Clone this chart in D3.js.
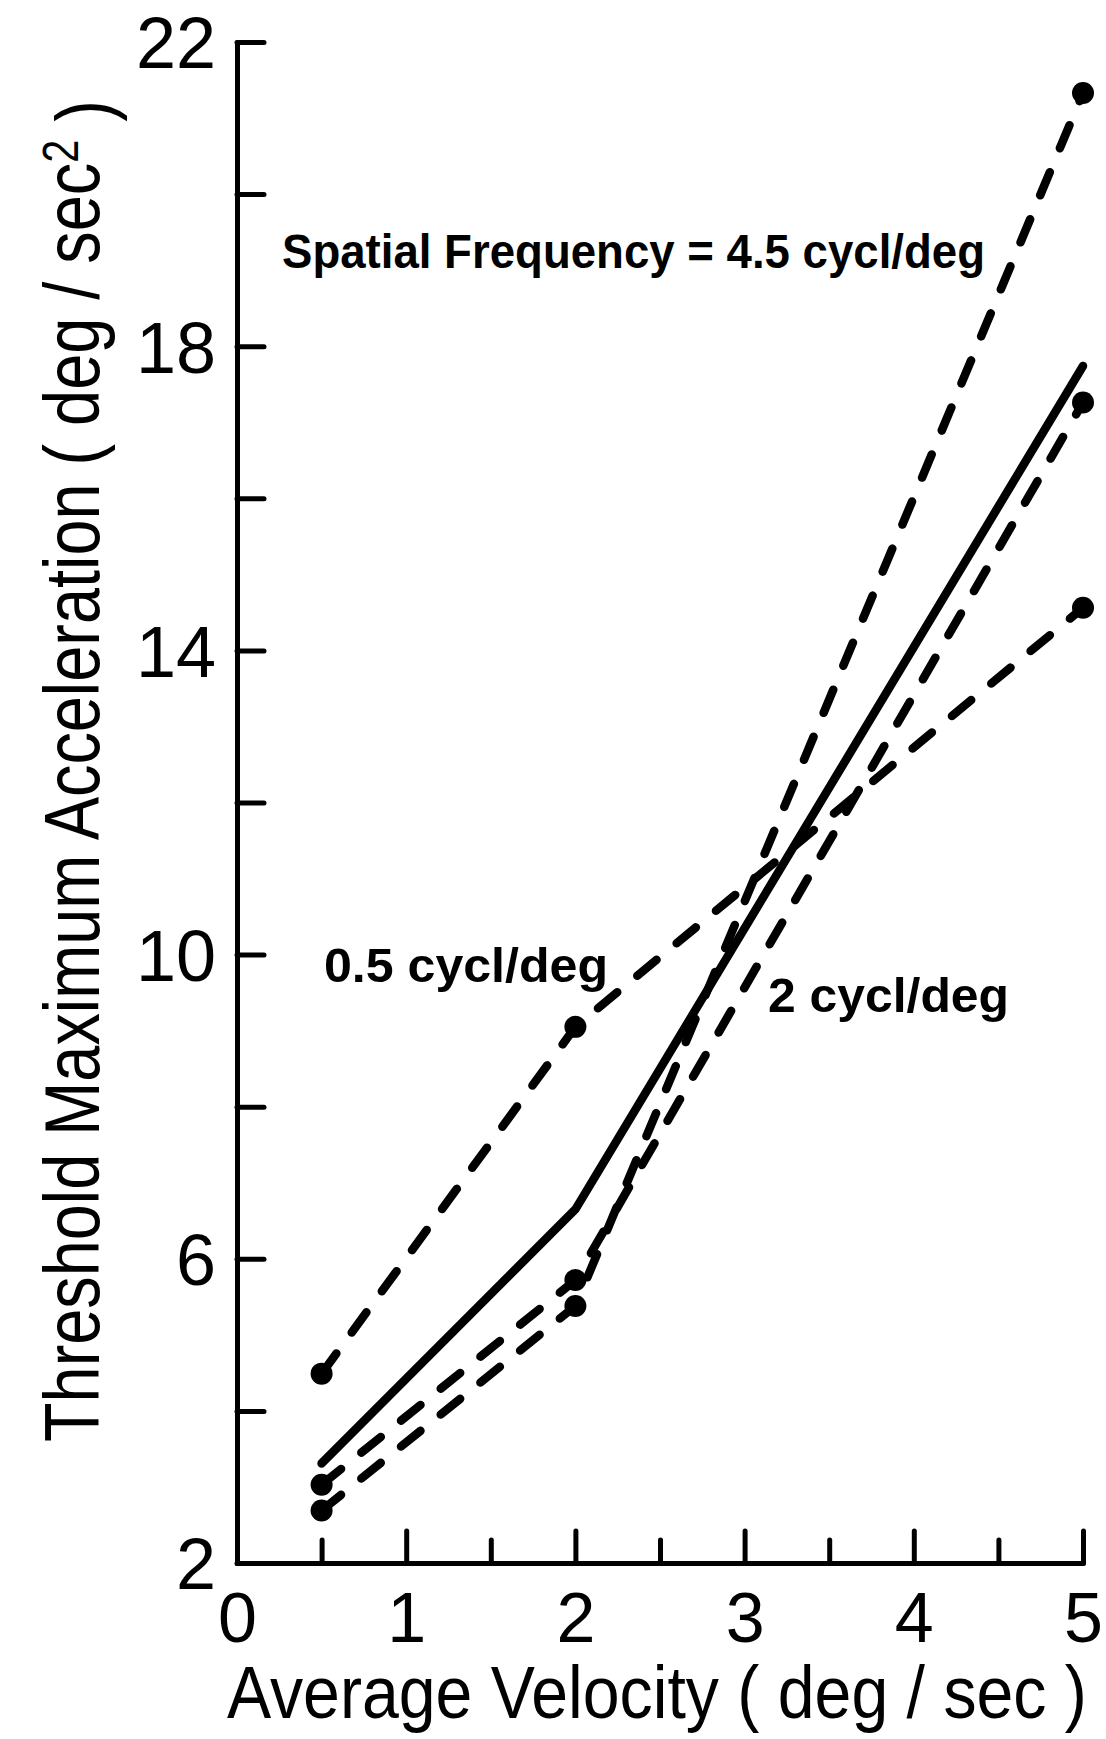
<!DOCTYPE html>
<html>
<head>
<meta charset="utf-8">
<script src="https://cdn.jsdelivr.net/npm/d3@7"></script>
<style>
  body { margin: 0; background: #fff; }
  svg { display: block; }
  .axis path, .axis line { stroke: #000; stroke-width: 5; stroke-linecap: round; }
  .axis text { font-family: "Liberation Sans", sans-serif; fill: #000; }
</style>
</head>
<body>
<svg id="chart"></svg>
<script>
// average velocity (deg/sec)
var velocity = [0.5, 2, 5];
// threshold max acceleration (deg/sec^2), one array per curve
var sf05 = [4.49, 9.05, 14.56];      // 0.5 cycl/deg
var sf2 = [3.03, 5.72, 17.26];       // 2 cycl/deg
var sf45 = [2.69, 5.38, 21.33];      // 4.5 cycl/deg
var solidCurve = [3.31, 6.65, 17.74]; // unmarked solid line

var yLabelTicks = [2, 6, 10, 14, 18, 22];
var yMinorTicks = [4, 8, 12, 16, 20];
var xLabelTicks = [0, 1, 2, 3, 4, 5];
var xMinorTicks = [0.5, 1.5, 2.5, 3.5, 4.5];

var W = 1106, H = 1739;
var svg = d3.select("#chart").attr("width", W).attr("height", H);

var x = d3.scaleLinear().domain([0, 5]).range([237, 1083]);
var y = d3.scaleLinear().domain([2, 22]).range([1563, 42]);

// y axis
svg.append("g")
  .attr("class", "axis")
  .attr("transform", "translate(" + x(0) + ",0)")
  .call(d3.axisLeft(y).tickValues(yLabelTicks).tickFormat(d3.format("d"))
    .tickSizeInner(-27).tickSizeOuter(0).tickPadding(21))
  .call(g => g.selectAll("text").style("font-size", "72px").attr("dy", "0.36em"));
svg.append("g")
  .attr("class", "axis")
  .attr("transform", "translate(" + x(0) + ",0)")
  .call(d3.axisLeft(y).tickValues(yMinorTicks).tickSizeInner(-27).tickSizeOuter(0).tickFormat(""))
  .call(g => g.select(".domain").remove());

// x axis
svg.append("g")
  .attr("class", "axis")
  .attr("transform", "translate(0," + y(2) + ")")
  .call(d3.axisBottom(x).tickValues(xLabelTicks).tickFormat(d3.format("d"))
    .tickSizeInner(-32).tickSizeOuter(0).tickPadding(29))
  .call(g => g.selectAll("text").style("font-size", "70px"))
  .call(g => g.selectAll(".tick").filter(d => d === 0).select("line").remove());
svg.append("g")
  .attr("class", "axis")
  .attr("transform", "translate(0," + y(2) + ")")
  .call(d3.axisBottom(x).tickValues(xMinorTicks).tickSizeInner(-23).tickSizeOuter(0).tickFormat(""))
  .call(g => g.select(".domain").remove());

// axis titles: lettering in the original is condensed, so squeeze horizontally
function squeeze(sel, len, pre) {
  var w = sel.node().getComputedTextLength();
  sel.attr("transform", pre + " scale(" + (len / w) + ",1)");
}

var xt = svg.append("text")
  .style("font-family", "Liberation Sans, sans-serif")
  .style("font-size", "74px")
  .text("Average Velocity  ( deg / sec )");
squeeze(xt, 860, "translate(227,1718)");

var yt = svg.append("text")
  .style("font-family", "Liberation Sans, sans-serif")
  .style("font-size", "78px");
yt.append("tspan").text("Threshold Maximum Acceleration  ( deg / sec");
yt.append("tspan").attr("dy", "-0.42em").style("font-size", "50px").text("2");
yt.append("tspan").attr("dy", "0.42em").text(" )");
squeeze(yt, 1342, "translate(99,1442) rotate(-90)");

// curves
var line = d3.line()
  .x((d, i) => x(velocity[i]))
  .y(d => y(d));

var curves = [
  {values: sf05, dashed: true, dots: true},
  {values: sf2, dashed: true, dots: true},
  {values: sf45, dashed: true, dots: true},
  {values: solidCurve, dashed: false, dots: false}
];

curves.forEach(c => {
  svg.append("path")
    .attr("d", line(c.values))
    .attr("fill", "none")
    .attr("stroke", "#000")
    .attr("stroke-width", 8.5)
    .attr("stroke-linecap", "round")
    .attr("stroke-linejoin", "round")
    .attr("stroke-dasharray", c.dashed ? "25,26" : null);
  if (c.dots) {
    svg.selectAll(null)
      .data(c.values)
      .enter().append("circle")
      .attr("cx", (d, i) => x(velocity[i]))
      .attr("cy", d => y(d))
      .attr("r", 11)
      .attr("fill", "#000");
  }
});

// annotations
function note(px, py, len, str) {
  svg.append("text")
    .attr("x", px).attr("y", py)
    .attr("textLength", len).attr("lengthAdjust", "spacingAndGlyphs")
    .style("font-family", "Liberation Sans, sans-serif")
    .style("font-size", "48px")
    .style("font-weight", "bold")
    .text(str);
}
note(282, 268, 703, "Spatial Frequency = 4.5 cycl/deg");
note(324, 982, 284, "0.5 cycl/deg");
note(768, 1012, 241, "2 cycl/deg");
</script>
</body>
</html>
